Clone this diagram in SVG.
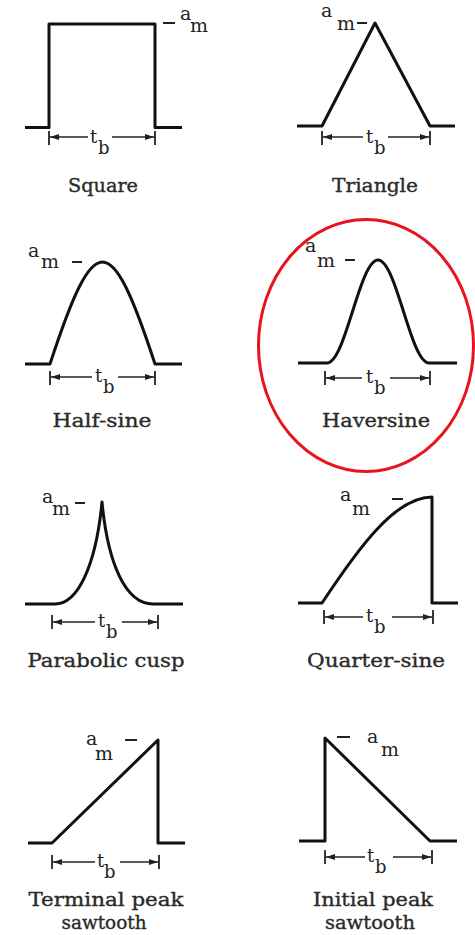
<svg xmlns="http://www.w3.org/2000/svg" width="475" height="935" viewBox="0 0 475 935">
<defs>
<marker id="arr" markerUnits="userSpaceOnUse" markerWidth="9" markerHeight="6" refX="9" refY="3" orient="auto">
<path d="M0,0 L9,3 L0,6 z" fill="#222"/>
</marker>
<style>
.w{fill:none;stroke:#111;stroke-width:3;stroke-linejoin:round;stroke-linecap:butt}
.d{fill:none;stroke:#222;stroke-width:1.4;marker-end:url(#arr)}
.k{stroke:#222;stroke-width:1.8}
.m{stroke:#222;stroke-width:2}
.lb{font-family:"DejaVu Serif",serif;font-size:18.5px;fill:#2a2a2a;text-anchor:middle;stroke:#2a2a2a;stroke-width:0.35}
.am{font-family:"DejaVu Serif",serif;font-size:19px;fill:#222}
.tb{font-family:"DejaVu Serif",serif;font-size:18px;fill:#222}
</style>
</defs>
<rect width="475" height="935" fill="#fff"/>

<g id="square">
<path class="w" d="M25,127.5 H49 V24 H155 V127.5 H182"/>
<line class="m" x1="163" y1="23" x2="175" y2="23"/>
<text class="am" x="180" y="20">a</text><text class="am" x="190" y="32">m</text>
<line class="k" x1="49" y1="131" x2="49" y2="145"/><line class="k" x1="155" y1="131" x2="155" y2="145"/>
<path class="d" d="M88,137 H50"/><path class="d" d="M112,137 H154"/>
<text class="tb" x="90" y="143">t</text><text class="tb" x="98" y="154">b</text>
<text class="lb" x="103" y="192" textLength="70" lengthAdjust="spacingAndGlyphs">Square</text>
</g>

<g id="triangle">
<path class="w" d="M297,126 H322 L375,23 L430,126 H455"/>
<text class="am" x="321" y="17">a</text><text class="am" x="337" y="30">m</text>
<line class="m" x1="357" y1="23" x2="367" y2="23"/>
<line class="k" x1="322" y1="131" x2="322" y2="145"/><line class="k" x1="430" y1="131" x2="430" y2="145"/>
<path class="d" d="M363,137 H323"/><path class="d" d="M388,137 H429"/>
<text class="tb" x="366" y="143">t</text><text class="tb" x="374" y="154">b</text>
<text class="lb" x="375" y="192" textLength="86" lengthAdjust="spacingAndGlyphs">Triangle</text>
</g>

<g id="half-sine">
<path class="w" d="M25,364 H50 C94.6,228 110.4,228 155,364 H182"/>
<text class="am" x="28" y="257">a</text><text class="am" x="41" y="268">m</text>
<line class="m" x1="72" y1="262" x2="82" y2="262"/>
<line class="k" x1="50" y1="371" x2="50" y2="385"/><line class="k" x1="155" y1="371" x2="155" y2="385"/>
<path class="d" d="M92,377 H51"/><path class="d" d="M118,377 H154"/>
<text class="tb" x="95" y="382">t</text><text class="tb" x="103" y="393">b</text>
<text class="lb" x="102" y="427" textLength="99" lengthAdjust="spacingAndGlyphs">Half-sine</text>
</g>

<g id="haversine">
<path class="w" d="M298,363 H327 C345.5,363 359.5,260 378,260 C396.5,260 410.5,363 429,363 H457"/>
<text class="am" x="305" y="252">a</text><text class="am" x="317" y="267">m</text>
<line class="m" x1="345" y1="260" x2="355" y2="260"/>
<line class="k" x1="325" y1="371" x2="325" y2="385"/><line class="k" x1="430" y1="371" x2="430" y2="385"/>
<path class="d" d="M362,378 H326"/><path class="d" d="M390,378 H429"/>
<text class="tb" x="366" y="383">t</text><text class="tb" x="374" y="394">b</text>
<text class="lb" x="376" y="427" textLength="108" lengthAdjust="spacingAndGlyphs">Haversine</text>
<ellipse cx="366" cy="345.5" rx="107.5" ry="126" fill="none" stroke="#e8141c" stroke-width="3"/>
</g>

<g id="parabolic-cusp">
<path class="w" d="M25,604 H55 C78,604 96,565 102,502 C108,565 126,604 153,604 H183"/>
<text class="am" x="42" y="503">a</text><text class="am" x="52" y="515">m</text>
<line class="m" x1="75" y1="503" x2="85" y2="503"/>
<line class="k" x1="52" y1="615" x2="52" y2="629"/><line class="k" x1="158" y1="615" x2="158" y2="629"/>
<path class="d" d="M95,622 H53"/><path class="d" d="M122,622 H157"/>
<text class="tb" x="98" y="627">t</text><text class="tb" x="106" y="638">b</text>
<text class="lb" x="106" y="667" textLength="157" lengthAdjust="spacingAndGlyphs">Parabolic cusp</text>
</g>

<g id="quarter-sine">
<path class="w" d="M298,603 H322 C358.7,547.5 395.3,497 432,497 V603 H458"/>
<text class="am" x="340" y="501">a</text><text class="am" x="352" y="515">m</text>
<line class="m" x1="392" y1="499" x2="403" y2="499"/>
<line class="k" x1="324" y1="610" x2="324" y2="624"/><line class="k" x1="433" y1="610" x2="433" y2="624"/>
<path class="d" d="M363,617 H325"/><path class="d" d="M392,617 H432"/>
<text class="tb" x="366" y="622">t</text><text class="tb" x="374" y="633">b</text>
<text class="lb" x="376" y="667" textLength="138" lengthAdjust="spacingAndGlyphs">Quarter-sine</text>
</g>

<g id="terminal-peak-sawtooth">
<path class="w" d="M28,843 H52 L158,740 V843 H185"/>
<text class="am" x="86" y="745">a</text><text class="am" x="95" y="760">m</text>
<line class="m" x1="125" y1="740" x2="137" y2="740"/>
<line class="k" x1="52" y1="855" x2="52" y2="869"/><line class="k" x1="159" y1="855" x2="159" y2="869"/>
<path class="d" d="M95,862 H53"/><path class="d" d="M120,862 H158"/>
<text class="tb" x="97" y="867">t</text><text class="tb" x="104" y="878">b</text>
<text class="lb" x="106" y="906" textLength="155" lengthAdjust="spacingAndGlyphs">Terminal peak</text>
<text class="lb" x="104" y="929" textLength="85" lengthAdjust="spacingAndGlyphs">sawtooth</text>
</g>

<g id="initial-peak-sawtooth">
<path class="w" d="M299,841 H325 V738 L430,841 H457"/>
<line class="m" x1="337" y1="737" x2="350" y2="737"/>
<text class="am" x="367" y="743">a</text><text class="am" x="381" y="756">m</text>
<line class="k" x1="325" y1="850" x2="325" y2="864"/><line class="k" x1="432" y1="850" x2="432" y2="864"/>
<path class="d" d="M365,857 H326"/><path class="d" d="M393,857 H431"/>
<text class="tb" x="367" y="862">t</text><text class="tb" x="375" y="873">b</text>
<text class="lb" x="373" y="906" textLength="120" lengthAdjust="spacingAndGlyphs">Initial peak</text>
<text class="lb" x="370" y="929" textLength="90" lengthAdjust="spacingAndGlyphs">sawtooth</text>
</g>
</svg>
